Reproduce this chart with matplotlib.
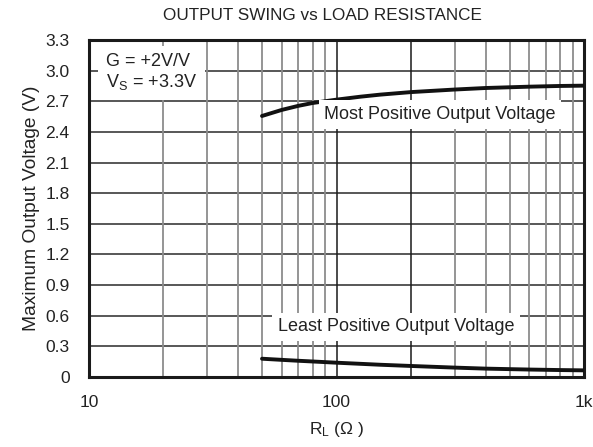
import numpy as np
import matplotlib.pyplot as plt
from matplotlib.ticker import FixedLocator, NullFormatter

plt.rcParams['font.family'] = ['Liberation Sans', 'DejaVu Sans']

# load resistance (ohms) and measured output swing (V)
rl = [50, 60, 70, 80, 100, 125, 150, 200, 300, 400, 600, 800, 1000]
v_high = [2.556, 2.615, 2.655, 2.683, 2.716, 2.745, 2.765, 2.79, 2.815, 2.83, 2.843, 2.85, 2.853]
v_low = [0.179, 0.168, 0.159, 0.152, 0.14, 0.129, 0.12, 0.108, 0.092, 0.082, 0.073, 0.068, 0.065]

yticks = [0, 0.3, 0.6, 0.9, 1.2, 1.5, 1.8, 2.1, 2.4, 2.7, 3.0, 3.3]
ytick_labels = ['0', '0.3', '0.6', '0.9', '1.2', '1.5', '1.8', '2.1', '2.4', '2.7', '3.0', '3.3']
xticks = [10, 100, 1000]
xtick_labels = ['10', '100', '1k']

fig = plt.figure(figsize=(5.93, 4.47), dpi=100)
ax = fig.add_axes([0.150, 0.1566, 0.835, 0.7539])

ax.set_xscale('log')
ax.set_xlim(10, 1000)
ax.set_ylim(0, 3.3)

# grid: dark horizontals, grey log minors, dark 100/200 lines
for y in yticks[1:-1]:
    ax.axhline(y, color='#2a2a2a', lw=1.1, zorder=1)
minors = [m * d for d in (10, 100) for m in range(2, 10)]
for x in minors:
    if x == 200:
        continue
    ax.axvline(x, color='#8c8c8c', lw=1.3, zorder=1)
for x in (100, 200):
    ax.axvline(x, color='#1a1a1a', lw=1.1, zorder=1)

ax.plot(rl, v_high, color='#111111', lw=2.8, zorder=3, solid_capstyle='round')
ax.plot(rl, v_low, color='#111111', lw=2.8, zorder=3, solid_capstyle='round')

ax.set_xticks(xticks)
ax.set_xticklabels(xtick_labels)
ax.xaxis.set_minor_locator(FixedLocator(minors))
ax.xaxis.set_minor_formatter(NullFormatter())
ax.set_yticks(yticks)
ax.set_yticklabels(ytick_labels)
ax.tick_params(which='both', length=0, labelsize=12.5, colors='#222222')
ax.tick_params(axis='x', pad=13)
ax.tick_params(axis='y', pad=14)

for s in ax.spines.values():
    s.set_linewidth(2.2)
    s.set_color('#1a1a1a')

box = dict(facecolor='white', edgecolor='none', pad=4)
ax.text(11.7, 2.98, 'G = +2V/V\n$\\mathregular{V_S}$ = +3.3V', fontsize=13,
        ha='left', va='center', color='#222222', bbox=dict(facecolor='white', edgecolor='none', pad=6),
        zorder=4, linespacing=1.1)
ax.text(262, 2.57, 'Most Positive Output Voltage', fontsize=13,
        ha='center', va='center', color='#222222', bbox=box, zorder=4)
ax.text(174, 0.49, 'Least Positive Output Voltage', fontsize=13,
        ha='center', va='center', color='#222222', bbox=box, zorder=4)

fig.text(322 / 593, 1 - 15 / 447, 'OUTPUT SWING vs LOAD RESISTANCE', fontsize=12.3,
         color='#222222', ha='center', va='center')
ax.set_ylabel('Maximum Output Voltage (V)', fontsize=13.8, color='#222222', labelpad=4)
ax.set_xlabel('$\\mathregular{R_L}$ ($\\mathregular{\\Omega}$ )', fontsize=12.5, color='#222222', labelpad=7)

fig.savefig('out.png', dpi=100)
